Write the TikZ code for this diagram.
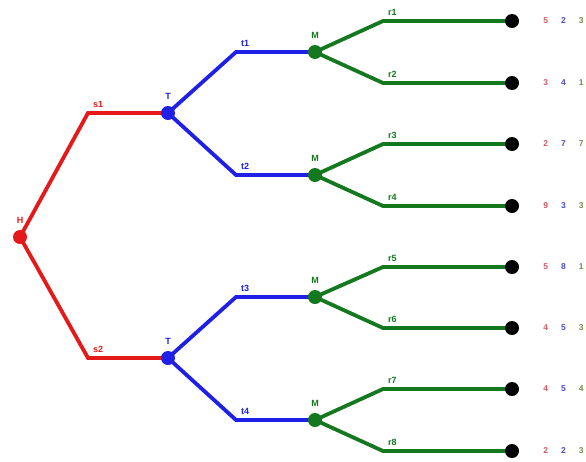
\documentclass[tikz,border=0pt]{standalone}
\usepackage{fontspec}
\setsansfont{Liberation Sans}
\usetikzlibrary{positioning,backgrounds}
\definecolor{treered}{rgb}{0.9, 0.1, 0.1}
\definecolor{treeblue}{rgb}{0.12, 0.12, 0.9}
\definecolor{treegreen}{rgb}{0.08, 0.47, 0.12}
\definecolor{payred}{rgb}{0.85, 0.35, 0.4}
\definecolor{payblue}{rgb}{0.3, 0.3, 0.8}
\definecolor{paygreen}{rgb}{0.45, 0.55, 0.3}
\newcommand{\payvec}[3]{{\color{payred}#1}\hspace{13pt}{\color{payblue}#2}\hspace{13pt}{\color{paygreen}#3}}

\begin{document}
\begin{tikzpicture}[x=1pt,y=-1pt]
        \tikzstyle{point}=[circle,fill,inner sep=0pt, minimum width=14pt, minimum height=14pt]
        \tikzstyle{branch}=[line width=3.8pt]
        \tikzstyle{lbl}=[font=\sffamily\bfseries\fontsize{9}{10}\selectfont, inner sep=1pt]
        \tikzstyle{pay}=[font=\sffamily\bfseries\fontsize{8.5}{10}\selectfont, inner sep=0pt]
        \useasboundingbox (0,0) rectangle (586,461);

        % Root (player H)
        \node[treered] (H)[point] at (20,237) {};
        \node[lbl, treered, above=5pt of H] (Hl) {H};
        \coordinate (s1) at (88,113);
        \coordinate (s2) at (88,358);
        \node[lbl, treered, above right=4pt and 4pt of s1] (s1l) {s1};
        \node[lbl, treered, above right=4pt and 4pt of s2] (s2l) {s2};

        % Second level (player T)
        \node[treeblue] (T1)[point] at (168,113) {};
        \node[treeblue] (T2)[point] at (168,358) {};
        \node[lbl, treeblue, above=5pt of T1] (T1l) {T};
        \node[lbl, treeblue, above=5pt of T2] (T2l) {T};
        \coordinate (t1) at (236,52);
        \coordinate (t2) at (236,175);
        \coordinate (t3) at (236,297);
        \coordinate (t4) at (236,420);
        \node[lbl, treeblue, above right=4pt and 4pt of t1] (t1l) {t1};
        \node[lbl, treeblue, above right=4pt and 4pt of t2] (t2l) {t2};
        \node[lbl, treeblue, above right=4pt and 4pt of t3] (t3l) {t3};
        \node[lbl, treeblue, above right=4pt and 4pt of t4] (t4l) {t4};

        % Third level (player M)
        \node[treegreen] (M1)[point] at (315,52) {};
        \node[treegreen] (M2)[point] at (315,175) {};
        \node[treegreen] (M3)[point] at (315,297) {};
        \node[treegreen] (M4)[point] at (315,420) {};
        \node[lbl, treegreen, above=5pt of M1] (M1l) {M};
        \node[lbl, treegreen, above=5pt of M2] (M2l) {M};
        \node[lbl, treegreen, above=5pt of M3] (M3l) {M};
        \node[lbl, treegreen, above=5pt of M4] (M4l) {M};
        \coordinate (r1) at (383,21);
        \coordinate (r2) at (383,83);
        \coordinate (r3) at (383,144);
        \coordinate (r4) at (383,206);
        \coordinate (r5) at (383,267);
        \coordinate (r6) at (383,328);
        \coordinate (r7) at (383,389);
        \coordinate (r8) at (383,451);
        \node[lbl, treegreen, above right=4pt and 4pt of r1] (r1l) {r1};
        \node[lbl, treegreen, above right=4pt and 4pt of r2] (r2l) {r2};
        \node[lbl, treegreen, above right=4pt and 4pt of r3] (r3l) {r3};
        \node[lbl, treegreen, above right=4pt and 4pt of r4] (r4l) {r4};
        \node[lbl, treegreen, above right=4pt and 4pt of r5] (r5l) {r5};
        \node[lbl, treegreen, above right=4pt and 4pt of r6] (r6l) {r6};
        \node[lbl, treegreen, above right=4pt and 4pt of r7] (r7l) {r7};
        \node[lbl, treegreen, above right=4pt and 4pt of r8] (r8l) {r8};

        % Leaves and payoffs
        \node (l1)[point] at (512,21) {};
        \node (l2)[point] at (512,83) {};
        \node (l3)[point] at (512,144) {};
        \node (l4)[point] at (512,206) {};
        \node (l5)[point] at (512,267) {};
        \node (l6)[point] at (512,328) {};
        \node (l7)[point] at (512,389) {};
        \node (l8)[point] at (512,451) {};
        \node[pay, right=24pt of l1] (p1) {\payvec{5}{2}{3}};
        \node[pay, right=24pt of l2] (p2) {\payvec{3}{4}{1}};
        \node[pay, right=24pt of l3] (p3) {\payvec{2}{7}{7}};
        \node[pay, right=24pt of l4] (p4) {\payvec{9}{3}{3}};
        \node[pay, right=24pt of l5] (p5) {\payvec{5}{8}{1}};
        \node[pay, right=24pt of l6] (p6) {\payvec{4}{5}{3}};
        \node[pay, right=24pt of l7] (p7) {\payvec{4}{5}{4}};
        \node[pay, right=24pt of l8] (p8) {\payvec{2}{2}{3}};

        % Draw the branches
        \begin{scope}[on background layer]
            \draw[branch, treered] (T1.center) -- (s1) -- (H.center) -- (s2) -- (T2.center);
            \draw[branch, treeblue] (M1.center) -- (t1) -- (T1.center) -- (t2) -- (M2.center);
            \draw[branch, treeblue] (M3.center) -- (t3) -- (T2.center) -- (t4) -- (M4.center);
            \draw[branch, treegreen] (l1.center) -- (r1) -- (M1.center) -- (r2) -- (l2.center);
            \draw[branch, treegreen] (l3.center) -- (r3) -- (M2.center) -- (r4) -- (l4.center);
            \draw[branch, treegreen] (l5.center) -- (r5) -- (M3.center) -- (r6) -- (l6.center);
            \draw[branch, treegreen] (l7.center) -- (r7) -- (M4.center) -- (r8) -- (l8.center);
        \end{scope}
    \end{tikzpicture}
\end{document}
